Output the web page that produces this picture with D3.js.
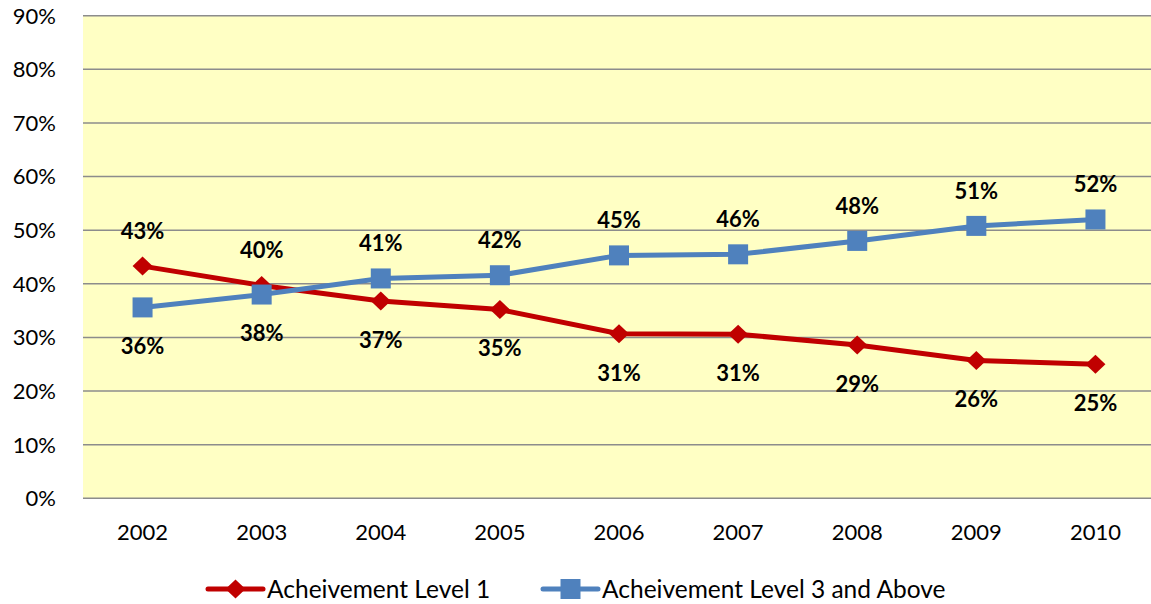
<!DOCTYPE html>
<html>
<head>
<meta charset="utf-8">
<script src="https://d3js.org/d3.v7.min.js"></script>
<style>
  body { margin: 0; background: #fff; }
  text { font-family: Lato, "Open Sans", sans-serif; fill: #000; }
</style>
</head>
<body>
<div id="chart"></div>
<script>
// data
var years = ["2002", "2003", "2004", "2005", "2006", "2007", "2008", "2009", "2010"];
var level1 = [0.433, 0.397, 0.368, 0.352, 0.307, 0.306, 0.286, 0.257, 0.250];
var level3 = [0.356, 0.380, 0.410, 0.416, 0.453, 0.455, 0.480, 0.508, 0.520];
var yTicks = [0, 0.1, 0.2, 0.3, 0.4, 0.5, 0.6, 0.7, 0.8, 0.9];
var seriesNames = ["Acheivement Level 1", "Acheivement Level 3 and Above"];

var W = 1151, H = 604;
var plotLeft = 83, plotRight = 1155, plotTop = 15.7, plotBottom = 498.3;

var svg = d3.select("#chart").append("svg")
    .attr("width", W)
    .attr("height", H);

var x = d3.scalePoint()
    .domain(years)
    .range([plotLeft, plotRight])
    .padding(0.5);

var y = d3.scaleLinear()
    .domain([0, 0.9])
    .range([plotBottom, plotTop]);

// plot background
svg.append("rect")
    .attr("x", plotLeft)
    .attr("y", y(0.9))
    .attr("width", plotRight - plotLeft)
    .attr("height", y(0) - y(0.9))
    .attr("fill", "#FFFFC4");

// gridlines
svg.append("g").selectAll("line")
    .data(yTicks)
    .enter().append("line")
    .attr("x1", plotLeft).attr("x2", plotRight)
    .attr("y1", function(d) { return y(d); })
    .attr("y2", function(d) { return y(d); })
    .attr("stroke", "#8C8C8C")
    .attr("stroke-width", 1.6);

// y labels
svg.append("g").selectAll("text")
    .data(yTicks)
    .enter().append("text")
    .attr("x", 56)
    .attr("y", function(d) { return y(d); })
    .attr("dy", "0.36em")
    .attr("text-anchor", "end")
    .style("font-size", "22px")
    .text(function(d) { return Math.round(d * 100) + "%"; });

// x labels
svg.append("g").selectAll("text")
    .data(years)
    .enter().append("text")
    .attr("x", function(d) { return x(d); })
    .attr("y", 540)
    .attr("text-anchor", "middle")
    .style("font-size", "22px")
    .text(function(d) { return d; });

var line = d3.line()
    .x(function(d, i) { return x(years[i]); })
    .y(function(d) { return y(d); });

var red = "#C00000", blue = "#4F81BD";

svg.append("path")
    .datum(level1)
    .attr("d", line)
    .attr("fill", "none")
    .attr("stroke", red)
    .attr("stroke-width", 5);

svg.append("path")
    .datum(level3)
    .attr("d", line)
    .attr("fill", "none")
    .attr("stroke", blue)
    .attr("stroke-width", 5);

// markers
function diamond(g, cx, cy) {
  g.append("path")
    .attr("d", "M" + cx + "," + (cy - 9.5) + "L" + (cx + 10) + "," + cy +
               "L" + cx + "," + (cy + 9.5) + "L" + (cx - 10) + "," + cy + "Z")
    .attr("fill", red);
}
function square(g, cx, cy) {
  g.append("rect")
    .attr("x", cx - 10).attr("y", cy - 10)
    .attr("width", 20).attr("height", 20)
    .attr("fill", blue);
}

var marks = svg.append("g");
level1.forEach(function(v, i) { diamond(marks, x(years[i]), y(v)); });
level3.forEach(function(v, i) { square(marks, x(years[i]), y(v)); });

// data labels: above the higher series, below the lower one
var labels = svg.append("g");
years.forEach(function(yr, i) {
  var a = level1[i], b = level3[i];
  var hi = Math.max(a, b), lo = Math.min(a, b);
  labels.append("text")
    .attr("x", x(yr))
    .attr("y", y(hi) - 35)
    .attr("dy", "0.36em")
    .attr("text-anchor", "middle")
    .style("font-size", "22px")
    .style("font-weight", "bold")
    .text(Math.round(hi * 100) + "%");
  labels.append("text")
    .attr("x", x(yr))
    .attr("y", y(lo) + 39)
    .attr("dy", "0.36em")
    .attr("text-anchor", "middle")
    .style("font-size", "22px")
    .style("font-weight", "bold")
    .text(Math.round(lo * 100) + "%");
});

// legend
var legend = svg.append("g");
var legItems = [
  { name: seriesNames[0], color: red, x0: 208, mark: diamond },
  { name: seriesNames[1], color: blue, x0: 543, mark: square }
];
legItems.forEach(function(it) {
  var ly = 589;
  legend.append("line")
    .attr("x1", it.x0).attr("x2", it.x0 + 55)
    .attr("y1", ly).attr("y2", ly)
    .attr("stroke", it.color)
    .attr("stroke-width", 5)
    .attr("stroke-linecap", "round");
  it.mark(legend, it.x0 + 27.5, ly);
  legend.append("text")
    .attr("x", it.x0 + 59)
    .attr("y", ly)
    .attr("dy", "0.36em")
    .style("font-size", "24.5px")
    .text(it.name);
});
</script>
</body>
</html>
